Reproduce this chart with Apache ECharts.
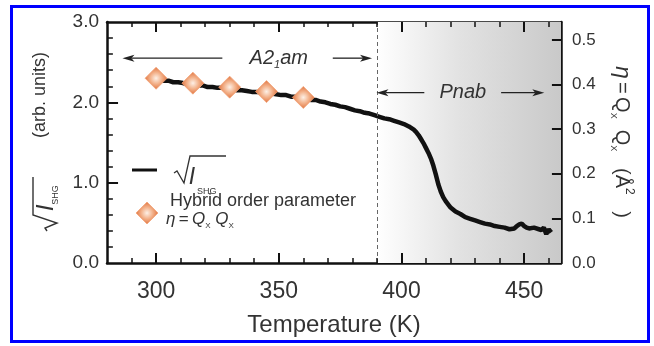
<!DOCTYPE html>
<html>
<head>
<meta charset="utf-8">
<script src="https://cdn.jsdelivr.net/npm/echarts@6/dist/echarts.min.js"></script>
<style>
html, body { margin: 0; padding: 0; background: #fff; }
#main { width: 654px; height: 346px; }
</style>
</head>
<body>
<div id="main"></div>
<script>
// sqrt(I_SHG) curve
var tempK = [299, 301, 303, 305, 307, 309, 311, 313, 315, 317, 319, 321, 323, 325, 327, 329, 331, 333, 335, 337,
    339, 341, 343, 345, 347, 349, 351, 353, 355, 357, 359, 361, 363, 365, 367, 369, 371, 373, 375, 377,
    379, 381, 383, 385, 387, 389, 391, 393, 395, 397, 399, 401, 403, 405, 406, 407, 408, 409, 410, 411,
    412, 413, 414, 415, 416, 417, 418, 419, 420, 422, 424, 426, 428, 430, 432, 434, 436, 438, 440, 442,
    444, 446, 447, 448, 449, 450, 451, 452, 454, 456, 457, 458, 459, 460, 461];
var sqrtShg = [2.30, 2.29, 2.27, 2.27, 2.25, 2.25, 2.24, 2.22, 2.22, 2.21, 2.21, 2.19, 2.19, 2.18, 2.18, 2.16, 2.16, 2.15, 2.15, 2.14,
    2.13, 2.13, 2.12, 2.11, 2.11, 2.10, 2.09, 2.09, 2.07, 2.07, 2.05, 2.05, 2.03, 2.03, 2.01, 2.00, 1.98, 1.97, 1.95, 1.94,
    1.92, 1.90, 1.89, 1.87, 1.86, 1.84, 1.82, 1.80, 1.79, 1.77, 1.75, 1.73, 1.70, 1.66, 1.63, 1.59, 1.54, 1.49, 1.43, 1.37,
    1.30, 1.21, 1.10, 0.98, 0.89, 0.82, 0.77, 0.73, 0.69, 0.64, 0.61, 0.57, 0.55, 0.53, 0.51, 0.49, 0.48, 0.46, 0.45, 0.44,
    0.42, 0.43, 0.46, 0.48, 0.49, 0.46, 0.44, 0.43, 0.44, 0.42, 0.41, 0.44, 0.36, 0.42, 0.38];

// hybrid order parameter eta (right axis)
var etaTemp = [300, 315, 330, 345, 360];
var etaValue = [0.414, 0.403, 0.394, 0.384, 0.371];

// tick positions
var xMajorTicks = [300, 350, 400, 450];
var xMinorTicks = [290, 310, 320, 330, 340, 360, 370, 380, 390, 410, 420, 430, 440, 460];
var yLeftMajor = [1, 2];
var yLeftMinor = [0.2, 0.4, 0.6, 0.8, 1.2, 1.4, 1.6, 1.8, 2.2, 2.4, 2.6, 2.8];
var yRightTicks = [0.1, 0.2, 0.3, 0.4, 0.5];
var transitionT = 390;

// phase annotations (data units on the left axis)
var phaseNames = ['A2_1am', 'Pnab'];
var phaseLevel = [2.55, 2.12];
var phaseLeftArrow = [[286.3, 327], [389.8, 409.3]];
var phaseTextT = [350, 425];
var phaseRightArrow = [[372, 388], [440.6, 458.2]];

var FONT = '"Liberation Sans", Arial, Helvetica, sans-serif';
var TXT = '#333';
var INK = '#111';

var X_MIN = 280, X_MAX = 465, Y_MAX = 3, ETA_MAX = 0.54;

var diamondFill = {
    type: 'radial', x: 0.5, y: 0.5, r: 0.5,
    colorStops: [
        {offset: 0, color: '#fdf0e6'},
        {offset: 0.5, color: '#f3b28b'},
        {offset: 1, color: '#e0733f'}
    ]
};

function fmt1(v) {
    return v.toFixed(1);
}

var curve = [];
for (var i = 0; i < tempK.length; i++) {
    curve.push([tempK[i], sqrtShg[i]]);
}
var etaPoints = [];
for (var j = 0; j < etaTemp.length; j++) {
    etaPoints.push([etaTemp[j], etaValue[j]]);
}

// inward ticks drawn as markLine segments in data units
// (10 px ~ 0.125 on the left axis, 11 px ~ 4.5 K, 9 px ~ 3.7 K)
var leftTicks = [], rightTicks = [];
function seg(list, a, b, w) {
    list.push([{coord: a, lineStyle: {type: 'solid', color: INK, width: w}}, {coord: b}]);
}
xMajorTicks.forEach(function (t) {
    seg(leftTicks, [t, 0], [t, 0.125], 2);
    seg(leftTicks, [t, Y_MAX], [t, Y_MAX - 0.125], 2);
});
xMinorTicks.forEach(function (t) {
    seg(leftTicks, [t, 0], [t, 0.062], 1.5);
    seg(leftTicks, [t, Y_MAX], [t, Y_MAX - 0.062], 1.5);
});
yLeftMajor.forEach(function (v) {
    seg(leftTicks, [X_MIN, v], [X_MIN + 4.5, v], 2);
});
yLeftMinor.forEach(function (v) {
    seg(leftTicks, [X_MIN, v], [X_MIN + 2.4, v], 1.5);
});
yRightTicks.forEach(function (v) {
    seg(rightTicks, [X_MAX, v], [X_MAX - 3.7, v], 2);
});

var chart = echarts.init(document.getElementById('main'));

var option = {
    animation: false,
    backgroundColor: '#fff',
    grid: {left: 107, right: 93, top: 22, bottom: 83},
    xAxis: [{
        type: 'value', position: 'bottom', min: X_MIN, max: X_MAX,
        name: 'Temperature (K)', nameLocation: 'middle', nameGap: 50,
        nameTextStyle: {fontFamily: FONT, fontSize: 24, color: TXT},
        axisLine: {show: true, onZero: false, lineStyle: {color: INK, width: 2.5}},
        axisTick: {show: false},
        axisLabel: {customValues: xMajorTicks, margin: 17, fontFamily: FONT, fontSize: 23, color: TXT},
        splitLine: {show: false}
    }, {
        type: 'value', position: 'top', min: X_MIN, max: X_MAX,
        axisLine: {show: true, onZero: false, lineStyle: {color: INK, width: 2.5}},
        axisTick: {show: false},
        axisLabel: {show: false},
        splitLine: {show: false}
    }],
    yAxis: [{
        type: 'value', position: 'left', min: 0, max: Y_MAX, interval: 1,
        axisLine: {show: true, lineStyle: {color: INK, width: 2.5}},
        axisTick: {show: false},
        axisLabel: {formatter: fmt1, margin: 8, fontFamily: FONT, fontSize: 19, color: TXT},
        splitLine: {show: false}
    }, {
        type: 'value', position: 'right', min: 0, max: ETA_MAX, interval: 0.1,
        axisLine: {show: true, lineStyle: {color: INK, width: 2.5}},
        axisTick: {show: false},
        axisLabel: {formatter: fmt1, margin: 11, fontFamily: FONT, fontSize: 17, color: TXT, showMaxLabel: false},
        splitLine: {show: false}
    }],
    series: [{
        name: 'sqrtI', type: 'line', xAxisIndex: 0, yAxisIndex: 0,
        data: curve, symbol: 'none', showSymbol: false, z: 3, clip: false,
        lineStyle: {color: INK, width: 4.5},
        markArea: {
            silent: true,
            itemStyle: {
                color: {
                    type: 'linear', x: 0, y: 0, x2: 1, y2: 0,
                    colorStops: [
                        {offset: 0, color: '#ffffff'},
                        {offset: 0.45, color: '#e2e2e2'},
                        {offset: 1, color: '#c9c9c9'}
                    ]
                }
            },
            data: [[{xAxis: transitionT}, {xAxis: X_MAX}]]
        },
        markLine: {
            silent: true, symbol: 'none', label: {show: false},
            lineStyle: {color: '#666', type: [4, 3], width: 1},
            data: [{xAxis: transitionT}].concat(leftTicks)
        }
    }, {
        name: 'eta', type: 'scatter', xAxisIndex: 0, yAxisIndex: 1,
        data: etaPoints, symbol: 'diamond', symbolSize: 22, z: 4, clip: false,
        itemStyle: {color: diamondFill, borderColor: '#f3a47a', borderWidth: 0.8, opacity: 1},
        markLine: {
            silent: true, symbol: 'none', label: {show: false},
            lineStyle: {color: INK, type: 'solid', width: 2},
            data: rightTicks
        }
    }]
};
chart.setOption(option);

// ---- decorations: arrows, phase names, axis titles, legend, frame ----
function px(t, v) {
    return chart.convertToPixel({xAxisIndex: 0, yAxisIndex: 0}, [t, v]);
}

function arrowHead(tipX, y, dir) {
    return {
        type: 'polygon', z: 20,
        shape: {points: [[tipX, y], [tipX - dir * 12, y - 3.5], [tipX - dir * 9, y], [tipX - dir * 12, y + 3.5]]},
        style: {fill: '#222'}
    };
}

var richItalic = {
    i: {fontFamily: FONT, fontStyle: 'italic', fontSize: 20, fill: TXT, lineHeight: 24, verticalAlign: 'middle'},
    s: {fontFamily: FONT, fontStyle: 'italic', fontSize: 11, fill: TXT, lineHeight: 12, verticalAlign: 'bottom'}
};

var graphics = [];
for (var k = 0; k < phaseNames.length; k++) {
    var l0 = px(phaseLeftArrow[k][0], phaseLevel[k]);
    var l1 = px(phaseLeftArrow[k][1], phaseLevel[k]);
    var r0 = px(phaseRightArrow[k][0], phaseLevel[k]);
    var r1 = px(phaseRightArrow[k][1], phaseLevel[k]);
    var tc = px(phaseTextT[k], phaseLevel[k]);
    graphics.push({type: 'line', z: 20, shape: {x1: l0[0] + 9, y1: l0[1], x2: l1[0], y2: l1[1]}, style: {stroke: '#222', lineWidth: 1.3}});
    graphics.push(arrowHead(l0[0], l0[1], -1));
    graphics.push({type: 'line', z: 20, shape: {x1: r0[0], y1: r0[1], x2: r1[0] - 9, y2: r1[1]}, style: {stroke: '#222', lineWidth: 1.3}});
    graphics.push(arrowHead(r1[0], r1[1], 1));
    var label = phaseNames[k] === 'A2_1am' ? '{i|A2}{s|1}{i|am}' : '{i|Pnab}';
    graphics.push({
        type: 'text', z: 20, x: tc[0], y: tc[1],
        style: {text: label, rich: richItalic, align: 'center', verticalAlign: 'middle'}
    });
}

// left axis title: sqrt(I_SHG) (arb. units)
graphics.push({
    type: 'group', x: 40, y: 142, rotation: Math.PI / 2, z: 20,
    children: [
        {type: 'text', x: 47, y: 0, style: {text: '(arb. units)', fontFamily: FONT, fontSize: 18, fill: TXT, align: 'center', verticalAlign: 'middle'}},
        {type: 'polyline', shape: {points: [[-89, 7], [-86, 5], [-81, 17], [-73, -7], [-35, -7]]}, style: {stroke: TXT, lineWidth: 1.4, fill: null}},
        {type: 'text', x: -66, y: 6, style: {text: 'I', fontFamily: FONT, fontStyle: 'italic', fontSize: 24, fill: TXT, align: 'center', verticalAlign: 'middle'}},
        {type: 'text', x: -53, y: 16, style: {text: 'SHG', fontFamily: FONT, fontSize: 9, fill: TXT, align: 'center', verticalAlign: 'middle'}}
    ]
});

// right axis title: eta = Q Q (A^2)
graphics.push({
    type: 'group', x: 622, y: 142, rotation: -Math.PI / 2, z: 20,
    children: [{
        type: 'text', x: 0, y: 0,
        style: {
            text: '{e|η} {m|=} {m|Q}{b|X}{m|  Q}{b|X}{m|   (Å}{t|2}{m|   )}',
            align: 'center', verticalAlign: 'middle',
            rich: {
                e: {fontFamily: FONT, fontStyle: 'italic', fontSize: 23, fill: TXT, lineHeight: 26, verticalAlign: 'middle'},
                m: {fontFamily: FONT, fontSize: 20, fill: TXT, lineHeight: 26, verticalAlign: 'middle'},
                b: {fontFamily: FONT, fontSize: 9, fill: TXT, lineHeight: 12, verticalAlign: 'bottom'},
                t: {fontFamily: FONT, fontSize: 12, fill: TXT, lineHeight: 12, verticalAlign: 'top'}
            }
        }
    }]
});

// legend
graphics.push({type: 'line', z: 20, shape: {x1: 132, y1: 170, x2: 157, y2: 170}, style: {stroke: INK, lineWidth: 3}});
graphics.push({type: 'polyline', z: 20, shape: {points: [[174, 173], [177, 171], [184, 183], [190, 156], [226, 156]]}, style: {stroke: TXT, lineWidth: 1.3, fill: null}});
graphics.push({type: 'text', z: 20, x: 192, y: 178, style: {text: 'I', fontFamily: FONT, fontStyle: 'italic', fontSize: 23, fill: TXT, align: 'center', verticalAlign: 'middle'}});
graphics.push({type: 'text', z: 20, x: 197, y: 192, style: {text: 'SHG', fontFamily: FONT, fontSize: 9, fill: TXT, verticalAlign: 'middle'}});
graphics.push({type: 'polygon', z: 20, shape: {points: [[147, 202], [158, 213], [147, 224], [136, 213]]}, style: {fill: diamondFill, stroke: '#f3a47a', lineWidth: 0.8}});
graphics.push({type: 'text', z: 20, x: 170, y: 201, style: {text: 'Hybrid order parameter', fontFamily: FONT, fontSize: 18, fill: TXT, verticalAlign: 'middle'}});
graphics.push({
    type: 'text', z: 20, x: 166, y: 219,
    style: {
        text: '{e|η} {m|=} {e|Q}{b|X}{e| Q}{b|X}',
        verticalAlign: 'middle',
        rich: {
            e: {fontFamily: FONT, fontStyle: 'italic', fontSize: 17, fill: TXT, lineHeight: 22, verticalAlign: 'middle'},
            m: {fontFamily: FONT, fontSize: 17, fill: TXT, lineHeight: 22, verticalAlign: 'middle'},
            b: {fontFamily: FONT, fontSize: 8, fill: TXT, lineHeight: 10, verticalAlign: 'bottom'}
        }
    }
});

// blue frame round the figure
graphics.push({type: 'rect', z: 100, shape: {x: 11.5, y: 6.5, width: 637, height: 335}, style: {fill: null, stroke: '#0000ff', lineWidth: 3}});

chart.setOption({graphic: graphics});
</script>
</body>
</html>
